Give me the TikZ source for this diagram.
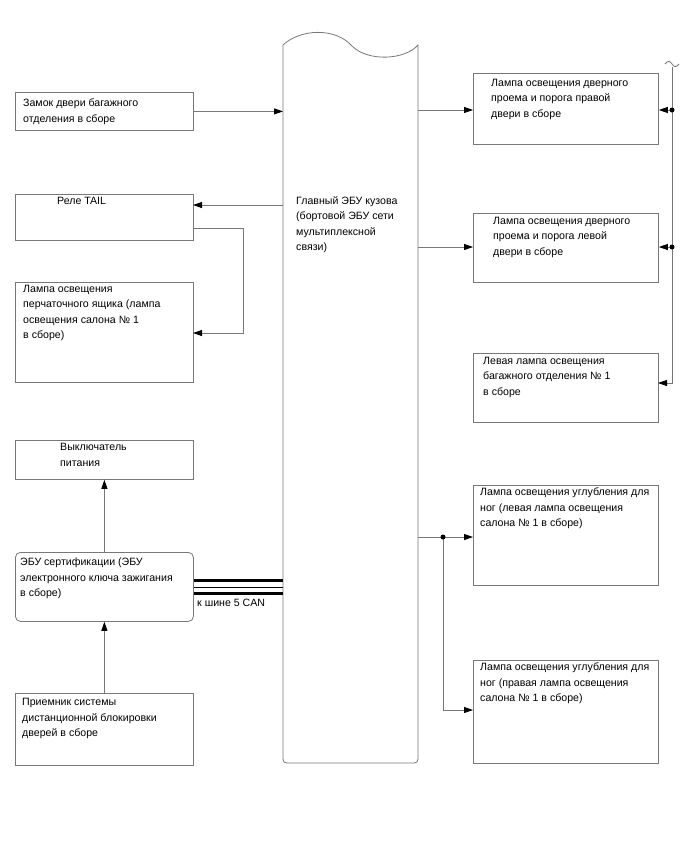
\documentclass[tikz,border=0pt]{standalone}
\usepackage{fontspec}
\setmainfont{Liberation Sans}
\usetikzlibrary{arrows.meta}
\definecolor{wire}{RGB}{120,120,120}
\tikzset{
    box/.style={draw=wire, line width=0.8pt, anchor=north west, inner sep=0pt},
    txt/.style={anchor=north west, align=left, inner sep=0pt, font=\fontsize{10.6}{15.5}\selectfont},
    link/.style={draw=wire, line width=0.8pt, -{Triangle[length=9pt,width=6pt,color=black]}},
    junction/.style={circle, fill=black, inner sep=0pt, minimum size=5pt},
}
\begin{document}
\begin{tikzpicture}[x=1pt,y=-1pt]
    \useasboundingbox (0,0) rectangle (688,852);
    % central body ECU
    \node[anchor=north west, minimum width=135pt, minimum height=718pt, inner sep=0pt] (bcm) at (283,45) {};
    \draw[wire, line width=0.8pt] (283,45) .. controls (300,29) and (335,27) .. (352,46)
        .. controls (368,62) and (405,60) .. (418,45) -- (418,755)
        .. controls (418,763) .. (410,763) -- (291,763)
        .. controls (283,763) .. (283,755) -- cycle;
    \node[txt] (bcmT) at (296,196) {Главный ЭБУ кузова\\(бортовой ЭБУ сети\\мультиплексной\\связи)};

    % left column
    \node[box, minimum width=178pt, minimum height=38pt] (lock) at (15,92) {};
    \node[txt] (lockT) at (23,99) {Замок двери багажного\\отделения в сборе};
    \node[box, minimum width=178pt, minimum height=46pt] (relay) at (15,194) {};
    \node[txt] (relayT) at (57,197) {Реле TAIL};
    \node[box, minimum width=178pt, minimum height=100pt] (glove) at (15,282) {};
    \node[txt] (gloveT) at (23,285) {Лампа освещения\\перчаточного ящика (лампа\\освещения салона № 1\\в сборе)};
    \node[box, minimum width=178pt, minimum height=39pt] (switch) at (15,440) {};
    \node[txt] (switchT) at (60,443) {Выключатель\\питания};
    \node[box, rounded corners=5pt, minimum width=178pt, minimum height=69pt] (ecu) at (15,552) {};
    \node[txt] (ecuT) at (20,558) {ЭБУ сертификации (ЭБУ\\электронного ключа зажигания\\в сборе)};
    \node[box, minimum width=178pt, minimum height=72pt] (recv) at (15,693) {};
    \node[txt] (recvT) at (22,698) {Приемник системы\\дистанционной блокировки\\дверей в сборе};

    % right column
    \node[box, minimum width=185pt, minimum height=71pt] (r1) at (473,73) {};
    \node[txt] (r1T) at (491,79) {Лампа освещения дверного\\проема и порога правой\\двери в сборе};
    \node[box, minimum width=185pt, minimum height=69pt] (r2) at (473,213) {};
    \node[txt] (r2T) at (493,217) {Лампа освещения дверного\\проема и порога левой\\двери в сборе};
    \node[box, minimum width=185pt, minimum height=69pt] (r3) at (473,353) {};
    \node[txt] (r3T) at (483,357) {Левая лампа освещения\\багажного отделения № 1\\в сборе};
    \node[box, minimum width=185pt, minimum height=100pt] (r4) at (473,485) {};
    \node[txt] (r4T) at (480,488) {Лампа освещения углубления для\\ног (левая лампа освещения\\салона № 1 в сборе)};
    \node[box, minimum width=185pt, minimum height=103pt] (r5) at (473,660) {};
    \node[txt] (r5T) at (480,663) {Лампа освещения углубления для\\ног (правая лампа освещения\\салона № 1 в сборе)};

    % left connectors
    \draw[link] (lock.east) -- (lock.east -| bcm.west);
    \coordinate (relayIn) at (193,205);
    \coordinate (relayOut) at (193,228);
    \coordinate (gloveIn) at (193,333);
    \draw[link] (relayIn -| bcm.west) -- (relayIn);
    \draw[link] (relayOut) -- ++(50,0) |- (gloveIn);
    \draw[link] (ecu.north) -- (switch.south);
    \draw[link] (recv.north) -- (ecu.south);

    % CAN bus
    \draw[line width=3pt] (ecu.east |- 0,580) -- (bcm.west |- 0,580);
    \draw[line width=1pt] (ecu.east |- 0,587) -- (bcm.west |- 0,587);
    \draw[line width=3pt] (ecu.east |- 0,593) -- (bcm.west |- 0,593);
    \node[txt] (canT) at (197,599) {к шине 5 CAN};

    % right connectors
    \coordinate (r1In) at (473,110);
    \coordinate (r2In) at (473,247);
    \draw[link] (r1In -| bcm.east) -- (r1In);
    \draw[link] (r2In -| bcm.east) -- (r2In);

    % right bus line
    \coordinate (busTop) at (672,67);
    \coordinate (j1) at (672,110);
    \coordinate (j2) at (672,247);
    \coordinate (r3In) at (658,383);
    \draw[wire, line width=0.8pt] (665,64) .. controls (668,60) and (670,61) .. (672,64)
        .. controls (674,67) and (676,68) .. (679,64);
    \draw[link] (busTop) |- (r3In);
    \draw[link] (j1) -- (j1 -| r1.east);
    \draw[link] (j2) -- (j2 -| r2.east);
    \node[junction] (d1) at (j1) {};
    \node[junction] (d2) at (j2) {};

    % footwell lamps
    \coordinate (j3) at (443,537);
    \coordinate (r5In) at (473,710);
    \draw[link] (j3 -| bcm.east) -- (j3 -| r4.west);
    \draw[link] (j3) |- (r5In);
    \node[junction] (d3) at (j3) {};
\end{tikzpicture}
\end{document}
